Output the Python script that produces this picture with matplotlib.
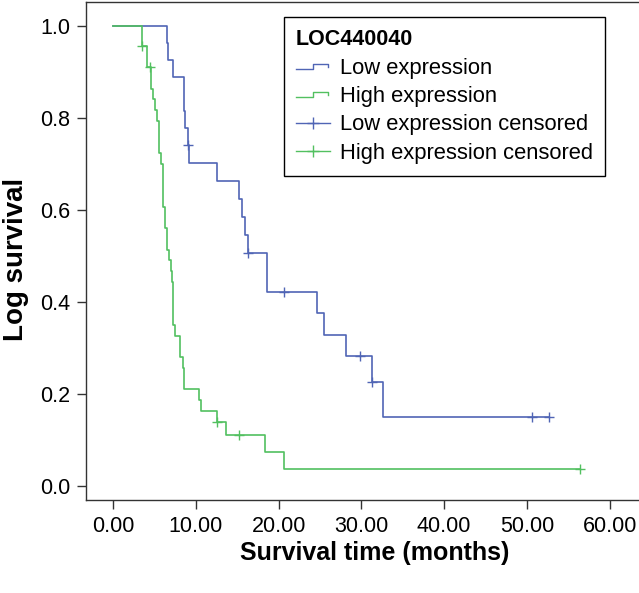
import matplotlib
matplotlib.use("Agg")
import matplotlib.pyplot as plt
from matplotlib.lines import Line2D
from matplotlib.legend_handler import HandlerBase
from matplotlib.ticker import FormatStrFormatter

plt.rcParams['font.family'] = ['Liberation Sans', 'DejaVu Sans']

# survival times (months) and status, 1 = death, 0 = censored
low_time = [6.5, 6.7, 7.3, 8.6, 8.6, 8.7, 9.1, 9.1, 9.2, 12.6, 15.25, 15.6, 15.9,
            16.3, 16.3, 18.55, 18.55, 20.65, 24.7, 25.5, 28.2, 29.8, 31.3, 31.3,
            32.6, 50.6, 52.7]
low_event = [1, 1, 1, 1, 1, 1, 1, 0, 1, 1, 1, 1, 1,
             1, 0, 1, 1, 0, 1, 1, 1, 0, 1, 0,
             1, 0, 0]

high_time = [3.5, 3.5, 3.5, 4.07, 4.07, 4.47, 4.55, 4.55, 4.8, 5.07, 5.28,
             5.5, 5.5, 5.5, 5.76, 6.07, 6.07, 6.07, 6.07, 6.28, 6.28, 6.5, 6.5,
             6.76, 7.0, 7.17, 7.3, 7.3, 7.3, 7.3, 7.5, 8.1, 8.1, 8.4, 8.55, 8.55,
             10.4, 10.6, 12.6, 12.6, 13.65, 15.25, 18.4, 20.65, 56.4]
high_event = [1, 1, 0, 1, 1, 0, 1, 1, 1, 1, 1,
              1, 1, 1, 1, 1, 1, 1, 1, 1, 1, 1, 1,
              1, 1, 1, 1, 1, 1, 1, 1, 1, 1, 1, 1, 1,
              1, 1, 1, 0, 1, 0, 1, 1, 0]

groups = ['Low expression', 'High expression']
colors = ['#5065b5', '#52c060']


def km(times, events):
    # Kaplan-Meier, deaths before censorings at tied times
    data = sorted(zip(times, events), key=lambda p: (p[0], -p[1]))
    at_risk = len(data)
    s = 1.0
    xs, ys = [0.0], [1.0]
    cx, cy = [], []
    for t, e in data:
        if e:
            s *= (at_risk - 1) / at_risk
            xs.append(t)
            ys.append(s)
        else:
            cx.append(t)
            cy.append(s)
        at_risk -= 1
    xs.append(data[-1][0])
    ys.append(s)
    return xs, ys, cx, cy


class StepHandler(HandlerBase):
    # small step glyph like the SPSS legend
    def create_artists(self, legend, orig_handle, xdescent, ydescent,
                       width, height, fontsize, trans):
        x0, y0 = -xdescent, -ydescent
        lo, hi = y0 + 0.3 * height, y0 + 0.65 * height
        xs = [x0, x0 + 0.5 * width, x0 + 0.5 * width, x0 + 0.95 * width, x0 + 0.95 * width]
        ys = [lo, lo, hi, hi, y0 + 0.45 * height]
        ln = Line2D(xs, ys, color=orig_handle.get_color(), lw=1.0, transform=trans)
        return [ln]


fig = plt.figure(figsize=(6.39, 5.93), dpi=100)
# plot box runs a little past the right edge of the picture
ax = fig.add_axes([0.1346, 0.157, 0.9045, 0.84])

curves = []
cens = []
for t, e, c in zip([low_time, high_time], [low_event, high_event], colors):
    xs, ys, cx, cy = km(t, e)
    ln, = ax.plot(xs, ys, drawstyle='steps-post', color=c, lw=1.2)
    ax.plot(cx, cy, ls='none', marker='+', ms=7, mew=1.0, color=c)
    curves.append(ln)
    cens.append(Line2D([], [], color=c, lw=1.0, marker='+', ms=9, mew=1.0))

ax.set_xlim(-3.26, 66.55)
ax.set_ylim(-0.03, 1.052)
ax.set_xticks(range(0, 61, 10))
ax.set_yticks([0, 0.2, 0.4, 0.6, 0.8, 1.0])
ax.xaxis.set_major_formatter(FormatStrFormatter('%.2f'))
ax.yaxis.set_major_formatter(FormatStrFormatter('%.1f'))
ax.tick_params(labelsize=15.5, length=6.5, width=1, color='#333333', pad=5)
for sp in ax.spines.values():
    sp.set_color('#333333')
    sp.set_linewidth(1.0)

ax.set_xlabel('Survival time (months)', fontsize=18, fontweight='bold', labelpad=3)
ax.set_ylabel('Log survival', fontsize=20, fontweight='bold')
ax.yaxis.set_label_coords(-0.098, 0.482)

handles = curves + cens
labels = groups + [g + ' censored' for g in groups]
leg = ax.legend(handles, labels, title='LOC440040', loc='upper left',
                bbox_to_anchor=(0.3426, 0.9695), fontsize=15.8,
                title_fontproperties={'weight': 'bold', 'size': 15.5},
                fancybox=False, edgecolor='black', framealpha=1,
                handlelength=1.55, handletextpad=0.45, labelspacing=0.34,
                borderpad=0.55, borderaxespad=0, alignment='left',
                handler_map={curves[0]: StepHandler(), curves[1]: StepHandler()})
leg.get_frame().set_linewidth(1.0)

fig.savefig('out.png', dpi=100)
